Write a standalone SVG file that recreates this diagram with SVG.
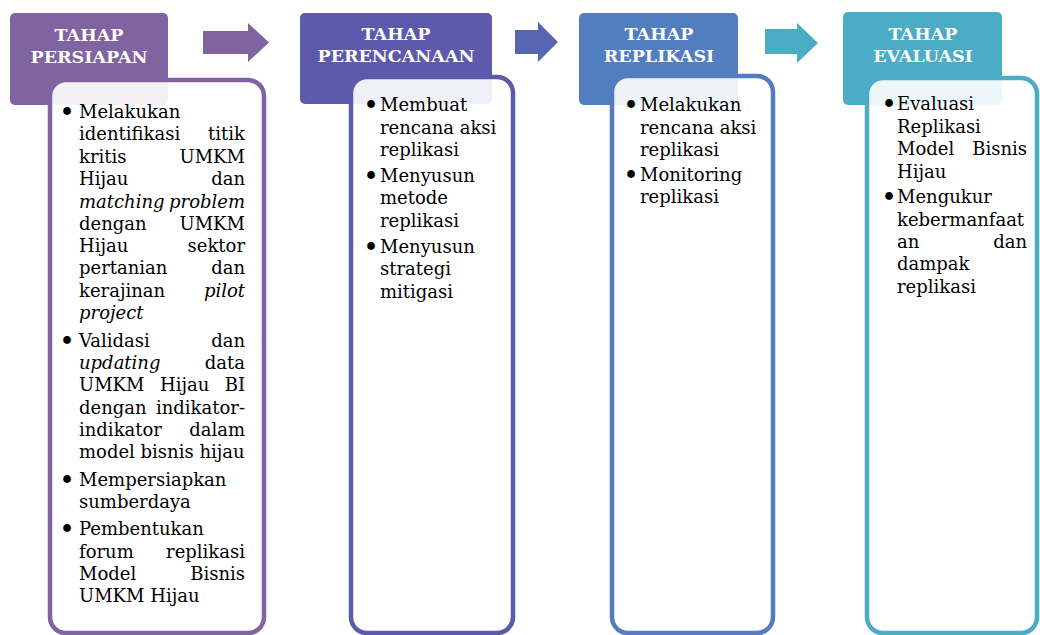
<svg xmlns="http://www.w3.org/2000/svg" width="1040" height="635" viewBox="0 0 1040 635">
  <style>
    .hd { font-family: "DejaVu Serif", "Liberation Serif", serif; font-weight: bold; font-size: 17.5px; fill: #ffffff; text-anchor: middle; }
    .tx { font-family: "DejaVu Serif", "Liberation Serif", serif; font-size: 18px; fill: #000000; }
    .bl { font-family: "DejaVu Serif", "Liberation Serif", serif; font-size: 22px; font-weight: bold; fill: #000000; text-anchor: middle; }
    .e { text-anchor: end; }
    .i { font-style: italic; }
    .panel { fill: #ffffff; fill-opacity: 0.9; stroke-width: 4.5; }
  </style>
  <rect width="1040" height="635" fill="#ffffff"/>

  <!-- flow arrows between stages -->
  <g id="connectors">
    <path d="M203,31 H248 V23 L269,42.5 L248,62 V54 H203 Z" fill="#8064A2"/>
    <path d="M515,30 H538 V22 L558,42 L538,62 V54 H515 Z" fill="#5765B3"/>
    <path d="M765,29 H797 V23 L818,43 L797,63 V54 H765 Z" fill="#4BACC6"/>
  </g>

  <!-- stage 1 -->
  <g id="tahap-persiapan">
    <rect x="10" y="13" width="158" height="92" rx="5" fill="#8064A2"/>
    <text class="hd" x="89" y="41">TAHAP</text>
    <text class="hd" x="89" y="63">PERSIAPAN</text>
    <rect class="panel" x="50" y="80" width="214" height="553" rx="16" stroke="#8064A2"/>
    <text class="bl" x="67" y="119">•</text>
    <text class="tx" x="79" y="118">Melakukan</text>
    <text class="tx" x="79" y="140">identifikasi</text><text class="tx e" x="245" y="140">titik</text>
    <text class="tx" x="79" y="163">kritis</text><text class="tx e" x="245" y="163">UMKM</text>
    <text class="tx" x="79" y="185">Hijau</text><text class="tx e" x="245" y="185">dan</text>
    <text class="tx i" x="79" y="208">matching</text><text class="tx i e" x="245" y="208">problem</text>
    <text class="tx" x="79" y="230">dengan</text><text class="tx e" x="245" y="230">UMKM</text>
    <text class="tx" x="79" y="252">Hijau</text><text class="tx e" x="245" y="252">sektor</text>
    <text class="tx" x="79" y="274">pertanian</text><text class="tx e" x="245" y="274">dan</text>
    <text class="tx" x="79" y="297">kerajinan</text><text class="tx i e" x="245" y="297">pilot</text>
    <text class="tx i" x="79" y="319">project</text>
    <text class="bl" x="67" y="347.5">•</text>
    <text class="tx" x="79" y="346.5">Validasi</text><text class="tx e" x="245" y="346.5">dan</text>
    <text class="tx i" x="79" y="369">updating</text><text class="tx e" x="245" y="369">data</text>
    <text class="tx" x="79" y="391">UMKM</text><text class="tx" x="160" y="391">Hijau</text><text class="tx e" x="245" y="391">BI</text>
    <text class="tx" x="79" y="413.5">dengan</text><text class="tx e" x="245" y="413.5">indikator-</text>
    <text class="tx" x="79" y="436">indikator</text><text class="tx e" x="245" y="436">dalam</text>
    <text class="tx" x="79" y="458">model bisnis hijau</text>
    <text class="bl" x="67" y="486.5">•</text>
    <text class="tx" x="79" y="485.5">Mempersiapkan</text>
    <text class="tx" x="79" y="508">sumberdaya</text>
    <text class="bl" x="67" y="536">•</text>
    <text class="tx" x="79" y="535">Pembentukan</text>
    <text class="tx" x="79" y="557.5">forum</text><text class="tx e" x="245" y="557.5">replikasi</text>
    <text class="tx" x="79" y="580">Model</text><text class="tx e" x="245" y="580">Bisnis</text>
    <text class="tx" x="79" y="602">UMKM Hijau</text>
  </g>

  <!-- stage 2 -->
  <g id="tahap-perencanaan">
    <rect x="300" y="13" width="192" height="91" rx="5" fill="#5D5AAC"/>
    <text class="hd" x="396" y="40">TAHAP</text>
    <text class="hd" x="396" y="62">PERENCANAAN</text>
    <rect class="panel" x="351" y="77" width="162" height="556" rx="16" stroke="#5D5AAC"/>
    <text class="bl" x="371" y="112">•</text>
    <text class="tx" x="380" y="111">Membuat</text>
    <text class="tx" x="380" y="133.5">rencana aksi</text>
    <text class="tx" x="380" y="156">replikasi</text>
    <text class="bl" x="371" y="182.5">•</text>
    <text class="tx" x="380" y="181.5">Menyusun</text>
    <text class="tx" x="380" y="204">metode</text>
    <text class="tx" x="380" y="226.5">replikasi</text>
    <text class="bl" x="371" y="253.5">•</text>
    <text class="tx" x="380" y="252.5">Menyusun</text>
    <text class="tx" x="380" y="275">strategi</text>
    <text class="tx" x="380" y="297.5">mitigasi</text>
  </g>

  <!-- stage 3 -->
  <g id="tahap-replikasi">
    <rect x="579" y="13" width="159" height="92" rx="5" fill="#527DC0"/>
    <text class="hd" x="659" y="40">TAHAP</text>
    <text class="hd" x="659" y="62">REPLIKASI</text>
    <rect class="panel" x="612" y="76" width="161" height="557" rx="16" stroke="#527DC0"/>
    <text class="bl" x="631" y="112">•</text>
    <text class="tx" x="640" y="111">Melakukan</text>
    <text class="tx" x="640" y="133.5">rencana aksi</text>
    <text class="tx" x="640" y="156">replikasi</text>
    <text class="bl" x="631" y="181.5">•</text>
    <text class="tx" x="640" y="180.5">Monitoring</text>
    <text class="tx" x="640" y="203">replikasi</text>
  </g>

  <!-- stage 4 -->
  <g id="tahap-evaluasi">
    <rect x="843" y="12" width="159" height="93" rx="5" fill="#4BACC6"/>
    <text class="hd" x="923" y="40">TAHAP</text>
    <text class="hd" x="923" y="62">EVALUASI</text>
    <rect class="panel" x="867" y="78" width="170" height="555" rx="16" stroke="#4BACC6"/>
    <text class="bl" x="889" y="111">•</text>
    <text class="tx" x="897" y="110">Evaluasi</text>
    <text class="tx" x="897" y="132.5">Replikasi</text>
    <text class="tx" x="897" y="155">Model</text><text class="tx e" x="1027" y="155">Bisnis</text>
    <text class="tx" x="897" y="177.5">Hijau</text>
    <text class="bl" x="889" y="204">•</text>
    <text class="tx" x="897" y="203">Mengukur</text>
    <text class="tx" x="897" y="225.5">kebermanfaat</text>
    <text class="tx" x="897" y="248">an</text><text class="tx e" x="1027" y="248">dan</text>
    <text class="tx" x="897" y="270">dampak</text>
    <text class="tx" x="897" y="292.5">replikasi</text>
  </g>
</svg>
